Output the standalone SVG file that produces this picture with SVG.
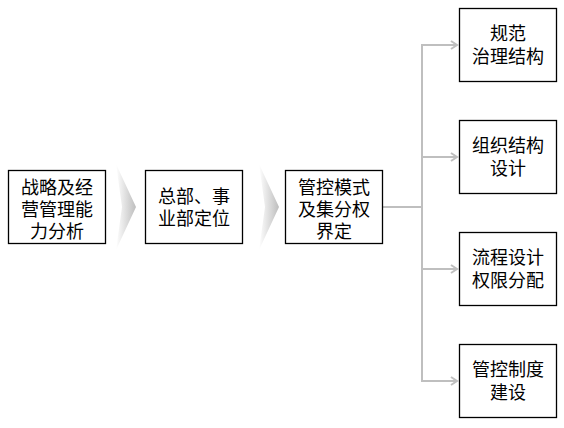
<svg xmlns="http://www.w3.org/2000/svg" width="564" height="428" viewBox="0 0 564 428">
<style>
.box{fill:#fff;stroke:#000;stroke-width:1.3}
.t{font-family:"Microsoft YaHei","Noto Sans CJK SC",sans-serif;font-size:18px;fill:#000;text-anchor:middle}
.c{fill:none;stroke:#bfbfbf;stroke-width:2}
</style>
<defs>
<linearGradient id="g" x1="0" y1="0" x2="1" y2="0">
<stop offset="0" stop-color="#ffffff"/>
<stop offset="1" stop-color="#bdbdbd"/>
</linearGradient>
<marker id="a" markerWidth="10" markerHeight="10" refX="8" refY="5" orient="auto" markerUnits="userSpaceOnUse">
<path d="M2,1 L8,5 L2,9" fill="none" stroke="#bfbfbf" stroke-width="2"/>
</marker>
</defs>
<g id="chevron1"><polygon points="116,164 136,207 116,250 122,207" fill="url(#g)"/></g>
<g id="chevron2"><polygon points="259,164 279,207 259,250 265,207" fill="url(#g)"/></g>
<g id="connectors">
<polyline class="c" points="382,207 422,207"/>
<line class="c" x1="422" y1="44" x2="422" y2="382"/>
<line class="c" x1="421" y1="45" x2="457" y2="45" marker-end="url(#a)"/>
<line class="c" x1="421" y1="157" x2="457" y2="157" marker-end="url(#a)"/>
<line class="c" x1="421" y1="269" x2="457" y2="269" marker-end="url(#a)"/>
<line class="c" x1="421" y1="381" x2="457" y2="381" marker-end="url(#a)"/>
</g>
<g id="n1"><rect class="box" x="8.5" y="170.5" width="97" height="73"/>
<text class="t" x="57" y="194">战略及经</text><text class="t" x="57" y="216">营管理能</text><text class="t" x="57" y="238">力分析</text></g>
<g id="n2"><rect class="box" x="145.5" y="170.5" width="97" height="73"/>
<text class="t" x="194" y="203">总部、事</text><text class="t" x="194" y="225">业部定位</text></g>
<g id="n3"><rect class="box" x="285.5" y="170.5" width="97" height="73"/>
<text class="t" x="334" y="194">管控模式</text><text class="t" x="334" y="216">及集分权</text><text class="t" x="334" y="238">界定</text></g>
<g id="n4"><rect class="box" x="459.5" y="8.5" width="97" height="73"/>
<text class="t" x="508" y="40">规范</text><text class="t" x="508" y="63">治理结构</text></g>
<g id="n5"><rect class="box" x="459.5" y="120.5" width="97" height="73"/>
<text class="t" x="508" y="152">组织结构</text><text class="t" x="508" y="175">设计</text></g>
<g id="n6"><rect class="box" x="459.5" y="232.5" width="97" height="73"/>
<text class="t" x="508" y="264">流程设计</text><text class="t" x="508" y="287">权限分配</text></g>
<g id="n7"><rect class="box" x="459.5" y="344.5" width="97" height="73"/>
<text class="t" x="508" y="376">管控制度</text><text class="t" x="508" y="399">建设</text></g>
</svg>
